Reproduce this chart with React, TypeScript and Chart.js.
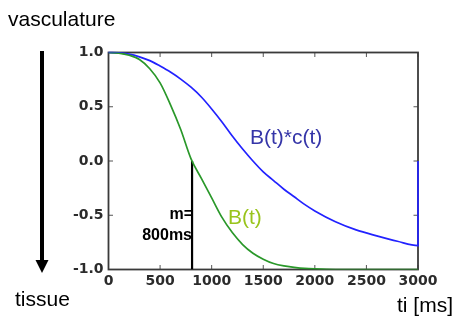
import { useEffect, useRef } from 'react';
import { Chart, registerables } from 'chart.js';

Chart.register(...registerables);

// time axis (ms)
const timesMs = [0, 100, 200, 300, 400, 500, 600, 700, 800, 900, 1000, 1100, 1200, 1300, 1400, 1500, 1600, 1700, 1800, 1900, 2000, 2200, 2400, 2600, 2800, 3000];
// B(t) – green
const bValues = [1.0, 0.995, 0.975, 0.935, 0.85, 0.72, 0.52, 0.29, 0.02, -0.16, -0.34, -0.52, -0.66, -0.77, -0.85, -0.905, -0.945, -0.967, -0.98, -0.99, -0.995, -1.0, -1.0, -1.0, -1.0, -1.0];
// B(t)*c(t) – blue
const bcValues = [1.0, 0.997, 0.985, 0.96, 0.925, 0.875, 0.82, 0.755, 0.68, 0.59, 0.48, 0.36, 0.23, 0.11, 0.0, -0.1, -0.18, -0.26, -0.33, -0.4, -0.46, -0.56, -0.635, -0.69, -0.74, -0.78];
// closing edge of the blue curve at the right border
const bcEdge = { x: 3000, y: 0 };
// marker m = 800ms
const markerMs = 810;
const markerFrom = 0;
const markerTo = -1;

const xTicks = { min: 0, max: 3000, step: 500 };
const yTicks = { min: -1, max: 1, step: 0.5 };

const framePlugin = {
  id: 'frame',
  beforeDatasetsDraw(chart: any) {
    const { ctx, chartArea: a, scales } = chart;
    ctx.save();
    ctx.strokeStyle = '#555';
    ctx.lineWidth = 1;
    const tl = 4.5;
    scales.x.ticks.forEach((t: any) => {
      const px = scales.x.getPixelForValue(t.value);
      ctx.beginPath();
      ctx.moveTo(px, a.bottom); ctx.lineTo(px, a.bottom - tl);
      ctx.moveTo(px, a.top); ctx.lineTo(px, a.top + tl);
      ctx.stroke();
    });
    scales.y.ticks.forEach((t: any) => {
      const py = scales.y.getPixelForValue(t.value);
      ctx.beginPath();
      ctx.moveTo(a.left, py); ctx.lineTo(a.left + tl, py);
      ctx.moveTo(a.right, py); ctx.lineTo(a.right - tl, py);
      ctx.stroke();
    });
    ctx.strokeStyle = '#3a3a3a';
    ctx.lineWidth = 1.8;
    ctx.strokeRect(a.left, a.top, a.right - a.left, a.bottom - a.top);
    ctx.restore();
  },
  afterDraw(chart: any) {
    const { ctx } = chart;
    ctx.save();
    ctx.fillStyle = '#000';
    ctx.font = '21px "Liberation Sans", Arial, sans-serif';
    ctx.textBaseline = 'alphabetic';
    ctx.textAlign = 'left';
    ctx.fillText('vasculature', 8, 26);
    ctx.fillText('tissue', 15, 306);
    ctx.fillText('ti [ms]', 397, 312);
    // arrow
    ctx.strokeStyle = '#000';
    ctx.lineWidth = 4;
    ctx.beginPath();
    ctx.moveTo(42, 51);
    ctx.lineTo(42, 262);
    ctx.stroke();
    ctx.beginPath();
    ctx.moveTo(35.5, 260);
    ctx.lineTo(48.5, 260);
    ctx.lineTo(42, 273);
    ctx.closePath();
    ctx.fill();
    // curve labels
    ctx.fillStyle = '#3535a8';
    ctx.fillText('B(t)*c(t)', 250, 144);
    ctx.fillStyle = '#99c41c';
    ctx.fillText('B(t)', 228, 224);
    // marker label
    ctx.fillStyle = '#000';
    ctx.font = 'bold 16px "Liberation Sans", Arial, sans-serif';
    ctx.textAlign = 'right';
    ctx.fillText('m=', 193, 219);
    ctx.fillText('800ms', 192, 240);
    ctx.restore();
  },
};

export default function App() {
  const ref = useRef<HTMLCanvasElement>(null);
  useEffect(() => {
    const canvas = ref.current!;
    const tickFont = { family: '"DejaVu Sans", sans-serif', size: 14, weight: 'bold' as const };
    const chart = new Chart(canvas, {
      type: 'line',
      data: {
        datasets: [
          {
            data: timesMs.map((t, i) => ({ x: t, y: bValues[i] })),
            borderColor: '#2a982a',
            borderWidth: 1.7,
            pointRadius: 0,
            cubicInterpolationMode: 'monotone',
          },
          {
            data: [...timesMs.map((t, i) => ({ x: t, y: bcValues[i] })), bcEdge],
            borderColor: '#2222ff',
            borderWidth: 1.7,
            pointRadius: 0,
            cubicInterpolationMode: 'monotone',
            clip: 4,
          },
          {
            data: [{ x: markerMs, y: markerFrom }, { x: markerMs, y: markerTo }],
            borderColor: '#000',
            borderWidth: 2.2,
            pointRadius: 0,
          },
        ],
      },
      options: {
        animation: false,
        responsive: false,
        maintainAspectRatio: false,
        layout: { padding: { left: 0, top: 52.5, right: 38, bottom: 0 } },
        plugins: { legend: { display: false }, tooltip: { enabled: false } },
        scales: {
          x: {
            type: 'linear',
            min: xTicks.min,
            max: xTicks.max,
            ticks: { stepSize: xTicks.step, color: '#2b2b2b', font: tickFont, padding: 3, maxRotation: 0, callback: (v: any) => String(v) },
            grid: { display: false, drawTicks: false },
            border: { display: false },
            afterFit: (s: any) => { s.height = 50.5; },
          },
          y: {
            type: 'linear',
            min: yTicks.min,
            max: yTicks.max,
            ticks: { stepSize: yTicks.step, color: '#2b2b2b', font: tickFont, padding: 5, callback: (v: any) => Number(v).toFixed(1) },
            grid: { display: false, drawTicks: false },
            border: { display: false },
            afterFit: (s: any) => { s.width = 108.5; },
          },
        },
      },
      plugins: [framePlugin],
    });
    return () => chart.destroy();
  }, []);
  return (
    <div style={{ position: 'fixed', left: 0, top: 0, width: 456, height: 320, background: '#fff' }}>
      <canvas ref={ref} width={456} height={320} style={{ width: 456, height: 320, display: 'block' }} />
    </div>
  );
}
